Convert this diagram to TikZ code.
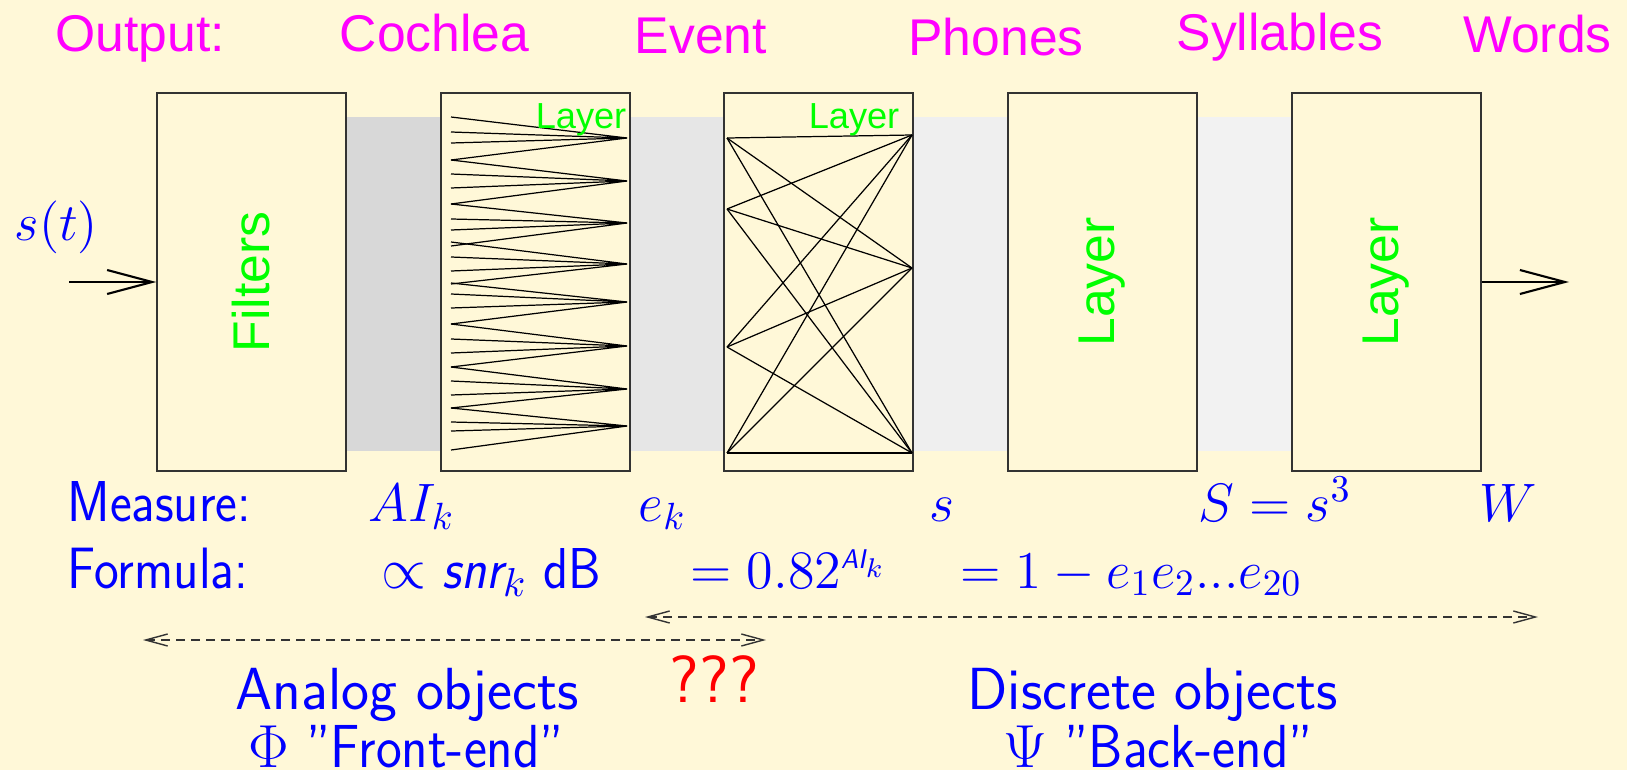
\RequirePackage{fix-cm}
\documentclass[tikz,border=0pt]{standalone}
\usepackage{fontspec}
\usepackage{amsmath}
\usetikzlibrary{arrows.meta,positioning,calc}
\newfontfamily\arialfont{Liberation Sans}
\newfontfamily\lmsansfont[FakeStretch=0.9]{Latin Modern Sans}
\newfontfamily\lmsanswide{Latin Modern Sans}
\definecolor{paper}{RGB}{255,248,216}
\definecolor{stagemag}{RGB}{255,0,255}
\definecolor{layergreen}{RGB}{0,255,0}
\definecolor{bandA}{RGB}{216,216,216}
\definecolor{bandB}{RGB}{230,230,230}
\definecolor{bandC}{RGB}{239,239,239}
\definecolor{bandD}{RGB}{242,242,242}
\tikzset{
  stage/.style={draw=black!80,fill=paper,line width=0.45pt,inner sep=0pt,
    minimum width=18.9mm,minimum height=37.8mm},
  toplab/.style={text=stagemag,anchor=base,inner sep=0pt,
    font=\fontsize{14.7}{17}\selectfont\arialfont},
  biglayer/.style={text=layergreen,rotate=90,inner sep=0pt,
    font=\fontsize{14.7}{17}\selectfont\arialfont},
  smalllayer/.style={text=layergreen,anchor=base east,inner sep=0pt,
    font=\fontsize{10.3}{12}\selectfont\arialfont},
  meas/.style={text=blue,anchor=base west,inner sep=0pt,
    font=\fontsize{15.4}{18}\selectfont\lmsansfont},
  caption/.style={meas,font=\fontsize{16.9}{20}\selectfont\lmsanswide},
  subcap/.style={meas,font=\fontsize{17.3}{20}\selectfont\lmsansfont},
  wire/.style={black,line width=0.35pt},
  flow/.style={black,line width=0.6pt,-{Straight Barb[length=4.5mm,width=2.4mm]}},
  span/.style={black!80,line width=0.4pt,dash pattern=on 0.9mm off 0.6mm,
    {Straight Barb[length=2.2mm,width=1.2mm]}-{Straight Barb[length=2.2mm,width=1.2mm]}}
}

\begin{document}
\begin{tikzpicture}[x=0.1mm,y=-0.1mm]
  \fill[paper] (0,0) rectangle (1627,770);
  \useasboundingbox (0,0) rectangle (1627,770);
  % ---------- grey bands between the stages ----------
  \fill[bandA] (347,117) rectangle (441,451);
  \fill[bandB] (630,117) rectangle (724,451);
  \fill[bandC] (913,117) rectangle (1008,451);
  \fill[bandD] (1197,117) rectangle (1292,451);
  % ---------- the five stages ----------
  \node[stage] (filt) at (251.5,282) {};
  \node[stage] (coch) at (535.5,282) {};
  \node[stage] (evnt) at (818.5,282) {};
  \node[stage] (phon) at (1102.5,282) {};
  \node[stage] (syll) at (1386.5,282) {};
  \node[biglayer] (filtlab) at (filt) {Filters};
  \node[biglayer] (phonlab) at (phon) {Layer};
  \node[biglayer] (sylllab) at (syll) {Layer};
  % cochlea: fan-in onto eight points
  \foreach \ay/\ya/\yb/\yc/\yd in {138/117/132/143/160,181/160/174/188/204,
      223/204/219/230/246,264/242/257/271/284,302/283/294/308/324,
      346/324/339/353/367,389/367/381/395/408,426/408/422/431/450}
    {\draw[wire] (451,\ya) -- (627,\ay) -- (451,\yb);
     \draw[wire] (451,\yc) -- (627,\ay) -- (451,\yd);}
  \node[smalllayer] (cochlab) at (627,128) {Layer};
  % event: four inputs, three outputs, all joined
  \foreach \i/\y in {1/138,2/209,3/347,4/453}
    \coordinate (in\i) at (727,\y);
  \foreach \j/\y in {1/135,2/268,3/453}
    \coordinate (out\j) at (912,\y);
  \foreach \i in {1,...,4}
    \foreach \j in {1,2,3}
      \draw[wire] (in\i) -- (out\j);
  \node[smalllayer] (evntlab) at (900,128) {Layer};
  % ---------- signal in and out ----------
  \node[meas,font=\fontsize{15}{18}\selectfont] (sig) at (14,240) {$s(t)$};
  \coordinate (src) at (69,282);
  \coordinate (snk) at (1569,282);
  \draw[flow] (src) -- (filt.west);
  \draw[flow] (syll.east) -- (snk);
  % ---------- output labels ----------
  \foreach \nm/\x/\y/\lab in {outp/140/51/{Output:},cochl/434.5/51/Cochlea,
      event/701/53/Event,phones/996/55/Phones,sylls/1280/50/Syllables,
      words/1537.5/52/Words}
    \node[toplab] (t\nm) at (\x,\y) {\lab};
  % ---------- measures and formulas ----------
  \node[meas,font=\fontsize{16.4}{19}\selectfont\lmsansfont] (measure) at (67,521) {Measure:};
  \node[meas,font=\fontsize{16.6}{19}\selectfont\lmsansfont] (formula) at (67,588) {Formula:};
  \node[meas] (mAI) at (368,521) {$AI_k$};
  \node[meas] (mek) at (638,521) {$e_k$};
  \node[meas] (ms) at (929,521) {$s$};
  \node[meas] (mS) at (1198,521) {$S=s^3$};
  \node[meas] (mW) at (1479,521) {$W$};
  \node[meas,font=\fontsize{16.4}{19}\selectfont\lmsansfont] (fsnr) at (381,588)
    {$\propto$ {\itshape snr}$_k$ dB};
  \node[meas] (fexp) at (690,588)
    {$=0.82^{\scriptscriptstyle\text{\lmsansfont\itshape AI}_k}$};
  \node[meas,font=\fontsize{15.1}{18}\selectfont\lmsansfont] (fprod) at (960,588)
    {$=1-e_1e_2...e_{20}$};
  % ---------- front-end / back-end spans ----------
  \coordinate (fa) at (143,640);
  \coordinate (fb) at (766,640);
  \coordinate (ba) at (645,617);
  \coordinate (bb) at (1538,617);
  \draw[span] (fa) -- (fb);
  \draw[span] (ba) -- (bb);
  \node[caption] (analog) at (235,709) {Analog objects};
  \node[subcap] (front) at (248,767) {$\Phi$ ”Front-end”};
  \node[caption,font=\fontsize{19}{22}\selectfont\lmsanswide,text=red] (qqq)
    at (669,702) {???};
  \node[caption] (discrete) at (967,709) {Discrete objects};
  \node[subcap] (back) at (1003,767) {$\Psi$ ”Back-end”};
\end{tikzpicture}
\end{document}
